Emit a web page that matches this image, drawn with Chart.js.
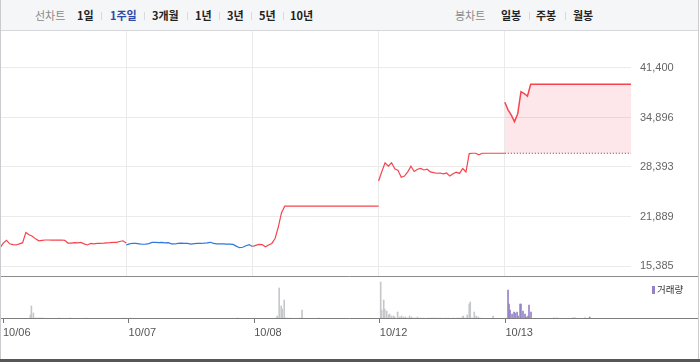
<!DOCTYPE html>
<html>
<head>
<meta charset="utf-8">
<script src="https://cdn.jsdelivr.net/npm/chart.js@4.4.1/dist/chart.umd.min.js"></script>
<style>
  html, body { margin: 0; padding: 0; background: #fff; }
  #wrap { position: relative; width: 700px; height: 362px; overflow: hidden; font-family: "Noto Sans CJK KR", "Noto Sans", sans-serif; }
  .topbar { position: absolute; left: 0; top: 0; width: 699px; height: 30px; background: #f5f6f8; border-bottom: 1px solid #d6d8dc; }
  .topbar span { position: absolute; top: 6px; font-size: 11px; line-height: 18px; font-weight: bold; color: #222; white-space: nowrap; }
  .topbar span.lbl { color: #8a8a8a; font-weight: normal; }
  .topbar span.on { color: #2c4aa8; }
  .topbar i { position: absolute; top: 12px; width: 1px; height: 8px; background: #dadada; }
  #priceBox { position: absolute; left: 0; top: 31px; width: 699px; height: 246px; }
  #volBox { position: absolute; left: 0; top: 277px; width: 699px; height: 83px; }
  .frame { position: absolute; left: 0; top: 0; width: 697px; height: 359px; border-left: 1px solid #c9cbcf; border-right: 1px solid #c9cbcf; pointer-events: none; }
  .bottom { position: absolute; left: 0; top: 359px; width: 700px; height: 3px; background: #575757; }
  .legend { position: absolute; left: 652px; top: 282px; font-size: 9.5px; line-height: 14px; color: #333; white-space: nowrap; }
  .legend b { display: inline-block; width: 3px; height: 8px; background: #9583c9; margin-right: 2px; vertical-align: -1px; }
</style>
</head>
<body>
<div id="wrap">
  <div class="topbar">
    <span class="lbl" style="left:35px">선차트</span>
    <span style="left:77px">1일</span><i style="left:101px"></i>
    <span class="on" style="left:110px">1주일</span><i style="left:144px"></i>
    <span style="left:152px">3개월</span><i style="left:187px"></i>
    <span style="left:195px">1년</span><i style="left:219px"></i>
    <span style="left:227px">3년</span><i style="left:251px"></i>
    <span style="left:259px">5년</span><i style="left:283px"></i>
    <span style="left:290px">10년</span>
    <span class="lbl" style="left:455px">봉차트</span>
    <span style="left:501px">일봉</span><i style="left:529px"></i>
    <span style="left:536px">주봉</span><i style="left:565px"></i>
    <span style="left:573px">월봉</span>
  </div>
  <div id="priceBox"><canvas id="priceChart" width="699" height="246"></canvas></div>
  <div id="volBox"><canvas id="volChart" width="699" height="83"></canvas></div>
  <div class="legend"><b></b>거래량</div>
  <div class="frame"></div>
  <div class="bottom"></div>
</div>

<script>
// 날짜 / 눈금
const dates = ['10/06', '10/07', '10/08', '10/12', '10/13'];
const priceTicks = [15385, 21889, 28393, 34896, 41400];
const prevClose = 30200;

// 하루 가격 (장중 균등 간격)
const p1006 = [17750, 18400, 18750, 18300, 18200, 18150, 18300, 18450, 19800, 19500,
               19300, 18950, 18700, 18750, 18800, 18800, 18780, 18800, 18790, 18800,
               18750, 18400, 18380, 18450, 18420, 18480, 18300, 18150, 18350, 18300,
               18350, 18370, 18380, 18420, 18450, 18500, 18480, 18600, 18700, 18400];
const p1007 = [18150, 18300, 18370, 18360, 18300, 18240, 18260, 18320, 18480, 18500,
               18450, 18480, 18430, 18460, 18300, 18280, 18350, 18380, 18370, 18360,
               18250, 18330, 18370, 18370, 18380, 18420, 18500, 18350, 18300, 18280,
               18280, 18270, 18260, 18230, 18000, 17790, 17850, 18050, 18200, 17950];
const p1008 = [17950, 18100, 18230, 18200, 17900, 18150, 18350, 19000, 20500, 22400,
               23250, 23250, 23250, 23250, 23250, 23250, 23250, 23250, 23250, 23250,
               23250, 23250, 23250, 23250, 23250, 23250, 23250, 23250, 23250, 23250,
               23250, 23250, 23250, 23250, 23250, 23250, 23250, 23250, 23250, 23250];
const p1012 = [26550, 27800, 28950, 28500, 28950, 28150, 27950, 27050, 27200, 27750,
               28500, 27800, 28100, 28200, 28000, 28100, 27750, 27650, 27570, 27600,
               27500, 27600, 27200, 27500, 27700, 27550, 28200, 27750, 30150, 30200,
               30200, 30000, 30200, 30200, 30200, 30200, 30200, 30200, 30200, 30200];
const p1013 = [36900, 35900, 35200, 34350, 35400, 38300, 38050, 37700, 39250, 39250,
               39250, 39250, 39250, 39250, 39250, 39250, 39250, 39250, 39250, 39250,
               39250, 39250, 39250, 39250, 39250, 39250, 39250, 39250, 39250, 39250,
               39250, 39250, 39250, 39250, 39250, 39250, 39250, 39250, 39250, 39250];

// 거래량 (시간 = 거래일 단위)
const volPastT = [0.222, 0.230, 0.246, 0.261, 0.277, 0.293, 0.309, 0.325, 0.452, 0.539, 0.666, 0.967,
                  1.022, 1.870,
                  2.179, 2.187, 2.203, 2.219, 2.227, 2.243, 2.250, 2.266, 2.290, 2.369, 2.385, 2.520,
                  3.011, 3.019, 3.035, 3.043, 3.059, 3.074, 3.082, 3.098, 3.114, 3.122,
                  3.146, 3.162, 3.177, 3.193, 3.209, 3.225, 3.241, 3.257, 3.273, 3.288,
                  3.304, 3.328, 3.352, 3.391, 3.415, 3.431, 3.447, 3.471, 3.494, 3.526,
                  3.550, 3.590, 3.621, 3.637, 3.661, 3.669, 3.685, 3.700, 3.716, 3.724,
                  3.740, 3.756, 3.772, 3.788, 3.803, 3.906];
const volPastV = [40000, 130000, 60000, 10000, 10000, 10000, 10000, 10000, 10000, 10000, 10000, 10000,
                  10000, 10000,
                  10000, 30000, 310000, 130000, 100000, 190000, 10000, 10000, 10000, 10000, 90000, 10000,
                  370000, 90000, 190000, 100000, 80000, 40000, 50000, 30000, 30000, 20000,
                  70000, 20000, 30000, 20000, 20000, 10000, 30000, 20000, 10000, 10000,
                  20000, 10000, 10000, 10000, 10000, 10000, 10000, 10000, 10000, 10000,
                  10000, 10000, 10000, 10000, 20000, 30000, 10000, 40000, 150000, 170000,
                  10000, 70000, 30000, 20000, 10000, 30000];
const volTodayT = [4.017, 4.025, 4.033, 4.049, 4.065, 4.073, 4.089, 4.097, 4.113, 4.120, 4.136,
                   4.152, 4.160, 4.176, 4.184, 4.200, 4.382, 4.406, 4.532, 4.548, 4.628, 4.667];
const volTodayV = [290000, 150000, 90000, 50000, 70000, 60000, 70000, 30000, 150000, 150000, 80000,
                   50000, 20000, 30000, 140000, 70000, 10000, 10000, 10000, 10000, 10000, 20000];

const RED = '#f5444e';
const BLUE = '#2f78e0';

Chart.defaults.font.family = "'Liberation Sans', Arial, sans-serif";
Chart.defaults.font.size = 11;
Chart.defaults.color = '#666';

function daySeries(day, prices) {
  return prices.map((p, i) => ({ x: day + i / (prices.length - 1), y: p }));
}

function zip(ts, vs) {
  return ts.map((t, i) => ({ x: t, y: vs[i] }));
}

// 패널 아래 가로선 (폭 전체)
const edgeLine = {
  id: 'edgeLine',
  afterDatasetsDraw(chart, args, opts) {
    const ctx = chart.ctx;
    const y = Math.round(chart.chartArea.bottom) - 0.5;
    ctx.save();
    ctx.strokeStyle = opts.color;
    ctx.lineWidth = 1;
    ctx.beginPath();
    ctx.moveTo(0, y);
    ctx.lineTo(chart.width, y);
    ctx.stroke();
    ctx.restore();
  }
};

const lineStyle = { pointRadius: 0, borderWidth: 1.2, tension: 0, fill: false };

new Chart(document.getElementById('priceChart').getContext('2d'), {
  type: 'line',
  data: {
    datasets: [
      Object.assign({ data: daySeries(0, p1006), borderColor: RED }, lineStyle),
      Object.assign({ data: daySeries(1, p1007), borderColor: BLUE }, lineStyle),
      Object.assign({ data: daySeries(2, p1008), borderColor: RED }, lineStyle),
      Object.assign({ data: daySeries(3, p1012), borderColor: RED }, lineStyle),
      Object.assign({}, lineStyle, {
        data: daySeries(4, p1013), borderColor: RED, borderWidth: 1.5,
        fill: { value: prevClose }, backgroundColor: 'rgba(245, 60, 80, 0.12)'
      }),
      {
        data: [{ x: 4, y: prevClose }, { x: 5, y: prevClose }],
        borderColor: '#444', borderWidth: 1, borderDash: [1, 2], pointRadius: 0, fill: false
      }
    ]
  },
  options: {
    responsive: false,
    animation: false,
    layout: { padding: 0 },
    scales: {
      x: {
        type: 'linear', min: 0, max: 5,
        afterBuildTicks: axis => { axis.ticks = dates.slice(1).map((d, i) => ({ value: i + 1 })); },
        afterFit: axis => { axis.height = 0; },
        ticks: { display: false },
        grid: { color: '#ebebeb', drawTicks: false },
        border: { display: false }
      },
      y: {
        position: 'right', min: 13940, max: 46261,
        afterBuildTicks: axis => { axis.ticks = priceTicks.map(v => ({ value: v })); },
        afterFit: axis => {
          axis.width = 68;
          axis.paddingTop = 0;
          axis.paddingBottom = 0;
        },
        ticks: {
          padding: 9, color: '#666',
          callback: v => v.toLocaleString('en-US')
        },
        grid: { color: '#ebebeb', drawTicks: false },
        border: { display: false }
      }
    },
    plugins: {
      legend: { display: false },
      tooltip: { enabled: false },
      edgeLine: { color: '#8c8c8c' }
    }
  },
  plugins: [edgeLine]
});

new Chart(document.getElementById('volChart').getContext('2d'), {
  type: 'bar',
  data: {
    datasets: [
      { data: zip(volPastT, volPastV), backgroundColor: '#c5c7cb', barThickness: 1, borderWidth: 0 },
      { data: zip(volTodayT, volTodayV), backgroundColor: '#9583c9', barThickness: 1, borderWidth: 0 }
    ]
  },
  options: {
    responsive: false,
    animation: false,
    layout: { padding: 0 },
    scales: {
      x: {
        type: 'linear', min: 0, max: 5, offset: false,
        afterBuildTicks: axis => { axis.ticks = dates.map((d, i) => ({ value: i })); },
        afterFit: axis => { axis.height = 41; },
        ticks: {
          autoSkip: false, maxRotation: 0, align: 'start', padding: 3, color: '#555',
          callback: v => dates[v]
        },
        grid: { drawOnChartArea: false, drawTicks: true, tickLength: 4, color: '#777', offset: false },
        border: { display: false }
      },
      y: {
        position: 'right', min: 0, max: 420000,
        afterFit: axis => { axis.width = 68; },
        ticks: { display: false },
        grid: { display: false },
        border: { display: false }
      }
    },
    plugins: {
      legend: { display: false },
      tooltip: { enabled: false },
      edgeLine: { color: '#7d7d7d' }
    }
  },
  plugins: [edgeLine]
});
</script>
</body>
</html>
